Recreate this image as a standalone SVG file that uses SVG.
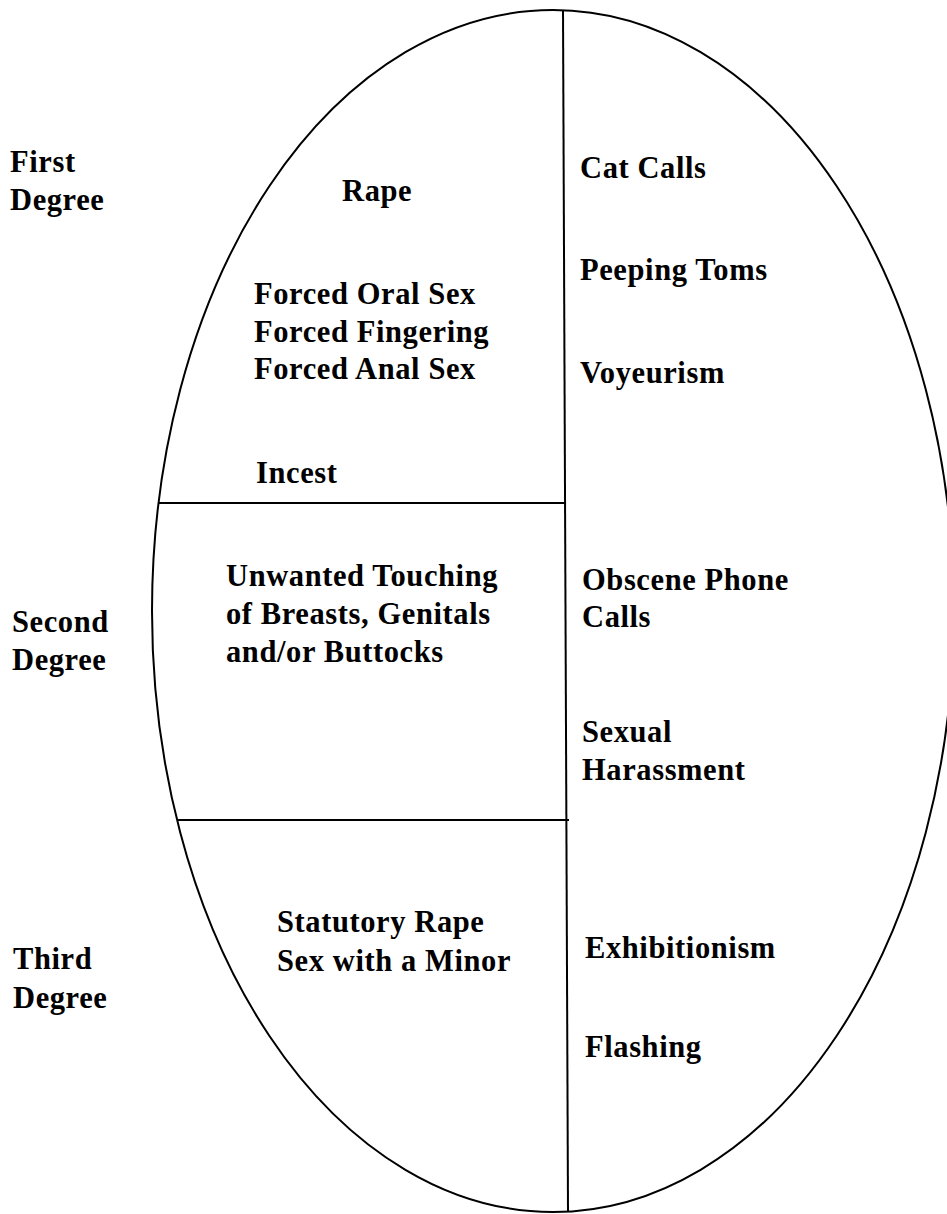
<svg xmlns="http://www.w3.org/2000/svg" width="947" height="1214" viewBox="0 0 947 1214">
<style>
.t{font-family:"Liberation Serif","Times New Roman",serif;font-weight:bold;font-size:30.5px;letter-spacing:0.6px;fill:#000}
.ln{stroke:#000;stroke-width:2;fill:none}
</style>
<rect width="947" height="1214" fill="#fff"/>
<g id="shape">
<ellipse class="ln" cx="553" cy="611" rx="401" ry="601"/>
</g>
<g id="connectors">
<line class="ln" x1="563" y1="10" x2="568" y2="1212"/>
<line class="ln" x1="158" y1="503" x2="566" y2="503"/>
<line class="ln" x1="177" y1="820" x2="569" y2="820"/>
</g>
<g id="degree-labels">
<text class="t" x="10" y="172">First</text>
<text class="t" x="10" y="210">Degree</text>
<text class="t" x="12" y="632">Second</text>
<text class="t" x="12" y="670">Degree</text>
<text class="t" x="13" y="969">Third</text>
<text class="t" x="13" y="1008">Degree</text>
</g>
<g id="first-degree">
<text class="t" x="342" y="201">Rape</text>
<text class="t" x="254" y="304">Forced Oral Sex</text>
<text class="t" x="254" y="342">Forced Fingering</text>
<text class="t" x="254" y="379">Forced Anal Sex</text>
<text class="t" x="256" y="483">Incest</text>
</g>
<g id="second-degree">
<text class="t" x="226" y="586">Unwanted Touching</text>
<text class="t" x="226" y="624">of Breasts, Genitals</text>
<text class="t" x="226" y="662">and/or Buttocks</text>
</g>
<g id="third-degree">
<text class="t" x="277" y="932">Statutory Rape</text>
<text class="t" x="277" y="971">Sex with a Minor</text>
</g>
<g id="non-contact">
<text class="t" x="580" y="178">Cat Calls</text>
<text class="t" x="580" y="280">Peeping Toms</text>
<text class="t" x="580" y="383">Voyeurism</text>
<text class="t" x="582" y="590">Obscene Phone</text>
<text class="t" x="582" y="627">Calls</text>
<text class="t" x="582" y="742">Sexual</text>
<text class="t" x="582" y="780">Harassment</text>
<text class="t" x="585" y="958">Exhibitionism</text>
<text class="t" x="585" y="1057">Flashing</text>
</g>
</svg>
